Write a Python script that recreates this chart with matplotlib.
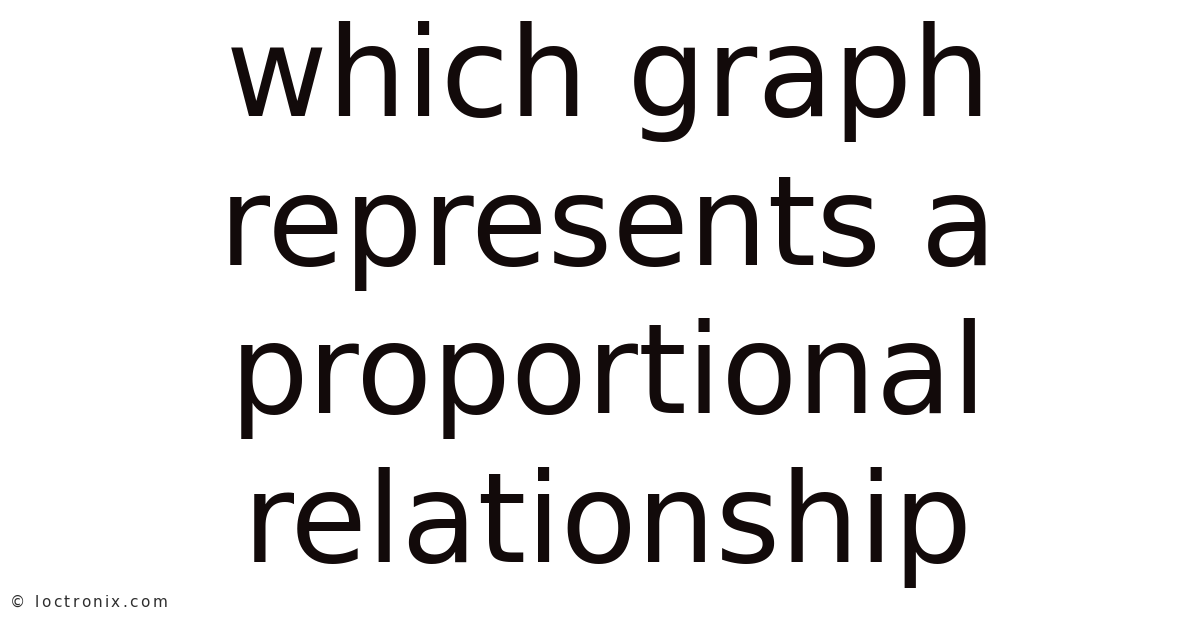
import matplotlib
matplotlib.use("Agg")
import matplotlib.pyplot as plt
from matplotlib.font_manager import FontProperties

title_lines = ["which graph", "represents a", "proportional", "relationship"]
baselines_px = [116, 265, 413, 562]
watermark = "© loctronix.com"

W, H, DPI = 1200, 628, 100
fig = plt.figure(figsize=(W / DPI, H / DPI), dpi=DPI)
fig.patch.set_facecolor("white")

for line, yb in zip(title_lines, baselines_px):
    fig.text(0.5067, 1 - yb / H, line, ha="center", va="baseline",
             fontsize=89.5, family="DejaVu Sans", color="#120a0a")

# watermark with slight letter spacing, placed character by character
renderer = fig.canvas.get_renderer()
prop = FontProperties(family="DejaVu Sans", size=11)
x0, xend, yb = 10.0, 167.0, 607.0
full_w, _, _ = renderer.get_text_width_height_descent(watermark, prop, ismath=False)
n = len(watermark)
tracking = max(0.0, (xend - x0 - full_w) / (n - 1))
for i, ch in enumerate(watermark):
    if ch == " ":
        continue
    pre_w = renderer.get_text_width_height_descent(watermark[:i], prop, ismath=False)[0] if i else 0.0
    fig.text((x0 + pre_w + tracking * i) / W, 1 - yb / H, ch, ha="left", va="baseline",
             fontproperties=prop, color="#2e2e2e")

fig.savefig("out.png", dpi=DPI, facecolor="white")
